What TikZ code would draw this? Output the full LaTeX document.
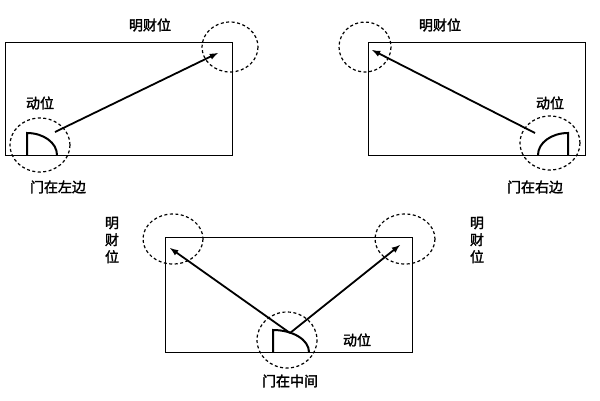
\documentclass[tikz,border=0pt]{standalone}
\usepackage{fontspec}
\setmainfont[AutoFakeBold=2]{Noto Sans CJK SC}
\begin{document}
\begin{tikzpicture}[x=1pt,y=-1pt,
  room/.style={draw,line width=0.8pt},
  zone/.style={draw,line width=1.2pt,dash pattern=on 3pt off 2.5pt},
  door/.style={draw,line width=2pt},
  arr/.style={draw,line width=1.8pt,-latex},
  lab/.style={font=\fontsize{14pt}{16pt}\selectfont\bfseries,align=center}]
\useasboundingbox (0,0) rectangle (600,400);
% top left
\draw[room] (5,42) rectangle (232,155);
\draw[door] (27,155) -- (27,133) arc[start angle=-90,end angle=0,x radius=30,y radius=22];
\draw[zone] (40,145) ellipse[x radius=30,y radius=27];
\draw[zone] (230,47) ellipse[x radius=28,y radius=25];
\coordinate (a1) at (55,132); \coordinate (b1) at (218,53);
\draw[arr] (a1) -- (b1);
\node[lab] (t1) at (150,25) {明财位};
\node[lab] (m1) at (40,103) {动位};
\node[lab] (g1) at (58,187) {门在左边};
% top right
\draw[room] (368,42) rectangle (585,155);
\draw[door] (568,155) -- (568,133) arc[start angle=-90,end angle=-180,x radius=30,y radius=22];
\draw[zone] (550,143) ellipse[x radius=30,y radius=27];
\draw[zone] (365,47) ellipse[x radius=26,y radius=25];
\coordinate (a2) at (535,133); \coordinate (b2) at (372,50);
\draw[arr] (a2) -- (b2);
\node[lab] (t2) at (440,25) {明财位};
\node[lab] (m2) at (550,103) {动位};
\node[lab] (g2) at (535,187) {门在右边};
% bottom
\draw[room] (165,237) rectangle (412,352);
\draw[door] (273,352) -- (273,330) arc[start angle=-90,end angle=0,x radius=36,y radius=22];
\draw[zone] (287,340) ellipse[x radius=30,y radius=28];
\draw[zone] (173,239) ellipse[x radius=30,y radius=25];
\draw[zone] (405,239) ellipse[x radius=30,y radius=25];
\coordinate (a3) at (290,333); \coordinate (b3) at (170,248); \coordinate (c3) at (400,245);
\draw[arr] (a3) -- (b3);
\draw[arr] (a3) -- (c3);
\node[lab,font=\fontsize{14pt}{17pt}\selectfont\bfseries] (t3) at (112,240) {明\\财\\位};
\node[lab,font=\fontsize{14pt}{17pt}\selectfont\bfseries] (t4) at (477,240) {明\\财\\位};
\node[lab] (m3) at (357,340) {动位};
\node[lab] (g3) at (290,381) {门在中间};
\end{tikzpicture}
\end{document}
